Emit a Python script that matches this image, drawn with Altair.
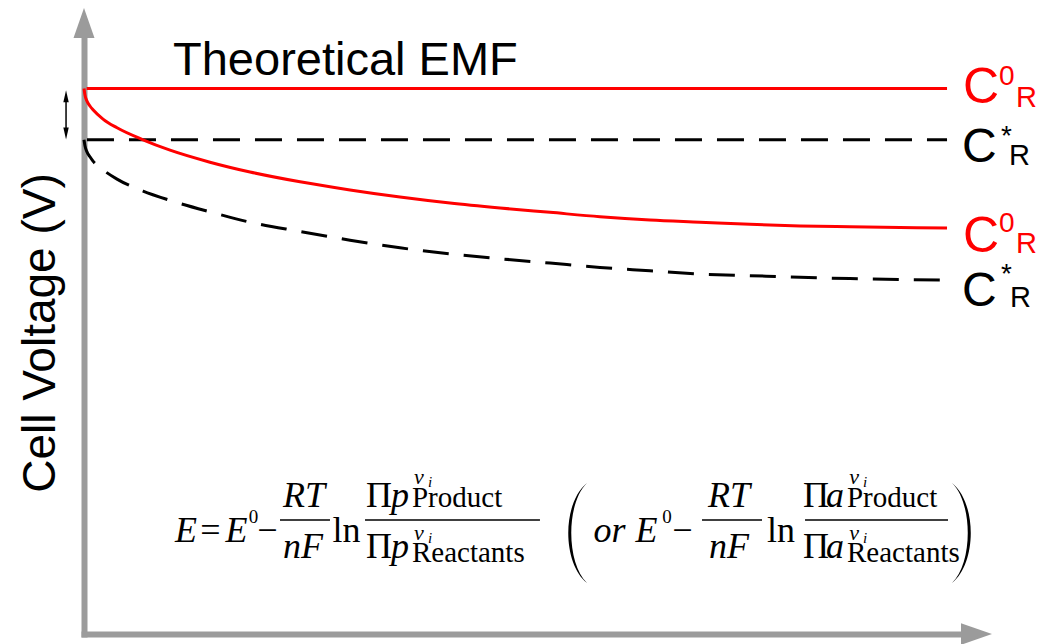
import altair as alt
import pandas as pd

# Cell voltage during discharge, arbitrary time and voltage units
t_c0 = [0, 0.11, 0.34, 0.68, 1.03, 2.17, 3.77, 6.74, 9.82, 14.38, 18.95, 24.66, 30.37,
        36.07, 41.78, 47.49, 53.20, 58.90, 64.61, 70.32, 76.03, 81.74, 87.44, 93.15, 98.52]
v_c0 = [1.0, 0.988, 0.977, 0.968, 0.961, 0.944, 0.928, 0.906, 0.887, 0.865, 0.847, 0.829, 0.814,
        0.801, 0.790, 0.781, 0.773, 0.765, 0.759, 0.755, 0.751, 0.748, 0.7465, 0.7452, 0.7443]

t_cs = [0, 0.11, 0.34, 0.68, 1.03, 2.17, 3.77, 6.74, 9.82, 14.38, 18.95, 24.66, 30.37,
        36.07, 41.78, 47.49, 53.20, 58.90, 64.61, 70.32, 76.03, 81.74, 87.44, 93.15, 98.52]
v_cs = [0.906, 0.895, 0.884, 0.875, 0.867, 0.851, 0.834, 0.812, 0.795, 0.774, 0.755, 0.738, 0.722,
        0.708, 0.697, 0.688, 0.680, 0.672, 0.666, 0.660, 0.657, 0.654, 0.6516, 0.6500, 0.6490]

# Theoretical EMF for the two reactant concentrations
emf_c0 = 1.0
emf_cs = 0.906
t_end = 98.52

GRAY = "#9b9b9b"
RED = "#ff0000"
SANS = "Liberation Sans"
SERIF = "Liberation Serif"

xs = alt.Scale(domain=[0, 100], nice=False, zero=False)
ys = alt.Scale(domain=[0, 1.1], nice=False, zero=False)
axis_style = dict(title=None, labels=False, ticks=False, grid=False,
                  domainColor=GRAY, domainWidth=6, domainCap="square")


def X(field):
    return alt.X(field, type="quantitative", scale=xs, axis=alt.Axis(**axis_style))


def Y(field):
    return alt.Y(field, type="quantitative", scale=ys, axis=alt.Axis(**axis_style))


def base(df):
    return alt.Chart(df)


# --- curves -----------------------------------------------------------------
c0_df = pd.DataFrame({"t": t_c0, "v": v_c0})
cs_df = pd.DataFrame({"t": t_cs, "v": v_cs})
emf0_df = pd.DataFrame({"t": [0.3, t_end], "v": [emf_c0, emf_c0]})
emfs_df = pd.DataFrame({"t": [0.34, t_end], "v": [emf_cs, emf_cs]})

c0_line = base(c0_df).mark_line(color=RED, strokeWidth=3, interpolate="monotone").encode(
    x=X("t"), y=Y("v"))
cs_line = base(cs_df).mark_line(color="black", strokeWidth=3, strokeDash=[26, 15],
                                interpolate="monotone").encode(x=X("t"), y=Y("v"))
emf0_line = base(emf0_df).mark_line(color=RED, strokeWidth=3).encode(x=X("t"), y=Y("v"))
emfs_line = base(emfs_df).mark_line(color="black", strokeWidth=3, strokeDash=[27, 15]).encode(
    x=X("t"), y=Y("v"))

# --- axis arrowheads ------------------------------------------------------------
up_head = base(pd.DataFrame({"t": [0], "v": [1.1202]})).mark_point(
    shape="M0,-1L-0.7,1L0.7,1Z", filled=True, size=900, color=GRAY, opacity=1, strokeWidth=0
).encode(x=X("t"), y=Y("v"))
right_head = base(pd.DataFrame({"t": [101.88], "v": [0]})).mark_point(
    shape="M1,0L-1,-0.7L-1,0.7Z", filled=True, size=961, color=GRAY, opacity=1, strokeWidth=0
).encode(x=X("t"), y=Y("v"))

# --- double arrow showing the EMF gap --------------------------------------------
gap_shaft = base(pd.DataFrame({"t": [-2.05], "v": [0.979], "v2": [0.924]})).mark_rule(
    color="black", strokeWidth=1.5).encode(x=X("t"), y=Y("v"), y2="v2")
gap_up = base(pd.DataFrame({"t": [-2.05], "v": [0.986]})).mark_point(
    shape="M0,-1L-0.45,1L0.45,1Z", filled=True, size=144, color="black", opacity=1, strokeWidth=0
).encode(x=X("t"), y=Y("v"))
gap_down = base(pd.DataFrame({"t": [-2.05], "v": [0.9176]})).mark_point(
    shape="M0,1L-0.45,-1L0.45,-1Z", filled=True, size=144, color="black", opacity=1, strokeWidth=0
).encode(x=X("t"), y=Y("v"))


# --- text helpers -------------------------------------------------------------
def texts(rows, **mark):
    df = pd.DataFrame(rows, columns=["t", "v", "txt", "fs", "col"])
    return base(df).mark_text(**mark).encode(
        x=X("t"), y=Y("v"), text="txt:N",
        size=alt.Size("fs:Q", scale=None, legend=None),
        color=alt.Color("col:N", scale=None, legend=None),
    )


title_txt = texts([[10.16, 1.0248, "Theoretical EMF", 47, "black"]],
                  font=SANS, align="left", baseline="alphabetic")
ylab_txt = texts([[-3.31, 0.5518, "Cell Voltage (V)", 46, "black"]],
                 font=SANS, align="center", baseline="alphabetic", angle=270)

# curve labels: C with superscript and subscript
label_big = texts([
    [100.34, 0.9735, "C", 50, RED],
    [100.23, 0.8653, "C", 48, "black"],
    [100.34, 0.7003, "C", 50, RED],
    [100.23, 0.6013, "C", 48, "black"],
], font=SANS, align="left", baseline="alphabetic")
label_small = texts([
    [104.45, 1.0065, "0", 28, RED],
    [106.39, 0.9662, "R", 29, RED],
    [104.68, 0.8965, "*", 28, "black"],
    [105.59, 0.8598, "R", 29, "black"],
    [104.45, 0.7370, "0", 28, RED],
    [106.39, 0.6985, "R", 29, RED],
    [104.68, 0.6435, "*", 28, "black"],
    [105.70, 0.5995, "R", 29, "black"],
], font=SANS, align="left", baseline="alphabetic")

# --- Nernst equation ------------------------------------------------------------
FS = 36
SUB = 29
K = "black"
MID, NUM, DEN = 0.1687, 0.2328, 0.1393
eq_italic = texts([
    [11.64, MID, "E", FS, K], [17.41, MID, "E", FS, K],
    [60.00, MID, "or", FS, K], [64.21, MID, "E", FS, K],
    [25.11, NUM, "RT", FS, K], [25.00, DEN, "nF", FS, K],
    [73.63, NUM, "RT", FS, K], [73.63, DEN, "nF", FS, K],
    [36.07, NUM, "p", FS, K], [36.07, DEN, "p", FS, K],
    [85.73, NUM, "a", FS, K], [85.73, DEN, "a", FS, K],
], font=SERIF, fontStyle="italic", align="center", baseline="alphabetic")
eq_upright = texts([
    [14.44, MID, "=", FS, K], [20.95, MID, "\u2212", FS, K],
    [68.32, MID, "\u2212", FS, K],
    [29.97, MID, "ln", FS, K], [79.57, MID, "ln", FS, K],
    [33.68, NUM, "\u03a0", FS, K], [33.68, DEN, "\u03a0", FS, K],
    [83.56, NUM, "\u03a0", FS, K], [83.56, DEN, "\u03a0", FS, K],
    [19.35, 0.2035, "0", 19, K], [66.55, 0.2035, "0", 19, K],
], font=SERIF, align="center", baseline="alphabetic")
eq_words = texts([
    [37.44, NUM, "Product", SUB, K], [37.44, 0.1320, "Reactants", SUB, K],
    [87.10, NUM, "Product", SUB, K], [87.10, 0.1320, "Reactants", SUB, K],
], font=SERIF, align="left", baseline="alphabetic")
eq_v = texts([
    [38.24, 0.2750, "v", 22, K], [38.24, 0.1723, "v", 22, K],
    [87.90, 0.2750, "v", 22, K], [87.90, 0.1723, "v", 22, K],
    [39.50, 0.2695, "i", 15, K], [39.50, 0.1668, "i", 15, K],
    [89.15, 0.2695, "i", 15, K], [89.15, 0.1668, "i", 15, K],
], font=SERIF, fontStyle="italic", align="center", baseline="alphabetic")

bars_df = pd.DataFrame({
    "t": [22.37, 32.08, 70.55, 82.31],
    "t2": [28.08, 52.05, 77.40, 98.63],
    "v": [0.209, 0.209, 0.209, 0.209],
})
eq_bars = base(bars_df).mark_rule(color="black", strokeWidth=1.5).encode(
    x=X("t"), x2="t2", y=Y("v"))

lparen = base(pd.DataFrame({"t": [56.28], "v": [0.1852]})).mark_point(
    shape="M0.2,-1C-0.3,-0.6 -0.3,0.6 0.2,1C-0.22,0.6 -0.22,-0.6 0.2,-1Z",
    filled=True, size=10000, color="black", opacity=1, strokeWidth=0
).encode(x=X("t"), y=Y("v"))
rparen = base(pd.DataFrame({"t": [100.23], "v": [0.1852]})).mark_point(
    shape="M-0.2,-1C0.3,-0.6 0.3,0.6 -0.2,1C0.22,0.6 0.22,-0.6 -0.2,-1Z",
    filled=True, size=10000, color="black", opacity=1, strokeWidth=0
).encode(x=X("t"), y=Y("v"))

chart = alt.layer(
    emf0_line, emfs_line, c0_line, cs_line,
    up_head, right_head, gap_shaft, gap_up, gap_down,
    title_txt, ylab_txt, label_big, label_small,
    eq_italic, eq_upright, eq_words, eq_v, eq_bars,
    lparen, rparen,
).properties(
    width=876, height=600, autosize="none",
    padding={"left": 84, "top": 34, "right": 92, "bottom": 10},
    background="white",
).configure_view(stroke=None)

chart.save("out.html", embed_options={"renderer": "svg", "actions": False})
